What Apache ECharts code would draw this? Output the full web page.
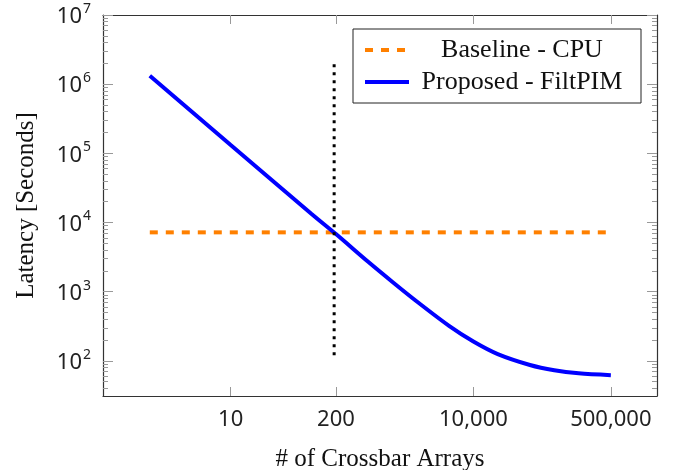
<!DOCTYPE html>
<html>
<head>
<meta charset="utf-8">
<script src="https://cdn.jsdelivr.net/npm/echarts@6/dist/echarts.min.js"></script>
<style>
  html, body { margin: 0; padding: 0; background: #fff; }
  #chart { width: 683px; height: 470px; }
</style>
</head>
<body>
<div id="chart"></div>
<script>
// 横轴（阵列数）与纵轴（延迟）数据
var crossbars = [1, 10, 100, 200, 500, 1000, 2000, 5000, 10000, 20000, 50000, 100000, 200000, 500000];
var filtpim = [1.32e6, 1.32e5, 1.33e4, 6.8e3, 2.7e3, 1.38e3, 720, 320, 190, 125, 87, 73, 66, 62];
var cpuRange = [1, 500000];
var cpuLatency = 7.2e3;
var markerX = 190;
var markerY = [120, 2e6];

var xTickValues = [10, 200, 10000, 500000];
var yTickValues = [100, 1e3, 1e4, 1e5, 1e6, 1e7];
var yMinorValues = [];
[40, 50, 60, 70, 80, 90].forEach(function (v) { yMinorValues.push(v); });
for (var e = 2; e < 7; e++) {
    for (var k = 2; k <= 9; k++) yMinorValues.push(k * Math.pow(10, e));
}

var X_MIN = 0.264, X_MAX = 1.86e6;
var Y_MIN = 31, Y_MAX = 1e7;

var sansFont = '"Noto Sans", sans-serif';
var serifFont = '"Liberation Serif", "Times New Roman", serif';
var axisColor = '#333';
var tickColor = '#999';

function commaFmt(v) {
    return String(Math.round(v)).replace(/\B(?=(\d{3})+(?!\d))/g, ',');
}
function powFmt(v) {
    var ex = Math.round(Math.log(v) / Math.LN10);
    return '{b|10}{s|' + ex + '}';
}

function xAxisDef(pos, labels) {
    return {
        type: 'log', position: pos, min: X_MIN, max: X_MAX, logBase: 10,
        name: labels ? '# of Crossbar Arrays' : '', nameLocation: 'middle', nameGap: 51,
        nameTextStyle: { fontFamily: serifFont, fontSize: 25, color: '#111' },
        axisLine: { show: true, onZero: false, lineStyle: { color: axisColor, width: 1.2 } },
        axisTick: { show: true, inside: true, length: 9, customValues: xTickValues, lineStyle: { color: tickColor } },
        axisLabel: { show: labels, customValues: xTickValues, formatter: commaFmt, margin: 13,
            fontFamily: sansFont, fontSize: 22, color: '#222' },
        minorTick: { show: false }, splitLine: { show: false }
    };
}
function yAxisDef(pos, major, labels) {
    return {
        type: 'log', position: pos, min: Y_MIN, max: Y_MAX, logBase: 10,
        name: labels ? 'Latency [Seconds]' : '', nameLocation: 'middle', nameGap: 64,
        nameTextStyle: { fontFamily: serifFont, fontSize: 25, color: '#111' },
        axisLine: { show: major, onZero: false, lineStyle: { color: axisColor, width: 1.2 } },
        axisTick: { show: true, inside: true, length: major ? 10 : 5,
            customValues: major ? yTickValues : yMinorValues, lineStyle: { color: tickColor } },
        axisLabel: { show: labels, customValues: yTickValues, formatter: powFmt, margin: 12,
            rich: {
                b: { fontFamily: sansFont, fontSize: 22, color: '#222', verticalAlign: 'bottom' },
                s: { fontFamily: sansFont, fontSize: 14, color: '#222', verticalAlign: 'top', padding: [0, 0, 12, 1] }
            } },
        minorTick: { show: false }, splitLine: { show: false }
    };
}

var chart = echarts.init(document.getElementById('chart'), null, { renderer: 'canvas' });
chart.setOption({
    animation: false,
    backgroundColor: '#fff',
    grid: { left: 103, right: 26, top: 15, bottom: 74, containLabel: false, outerBoundsMode: 'none' },
    legend: {
        left: 353, top: 29, orient: 'vertical',
        data: ['Baseline - CPU', 'Proposed - FiltPIM'],
        backgroundColor: '#fff', borderColor: '#222', borderWidth: 1,
        padding: [8, 11, 8, 10], itemGap: 6, itemWidth: 44, itemHeight: 14,
        itemStyle: { opacity: 0 },
        lineStyle: { width: 4 },
        formatter: function (name) { return '{t|' + name + '}'; },
        textStyle: {
            rich: { t: { width: 216, align: 'center', fontFamily: serifFont, fontSize: 26, color: '#111', lineHeight: 26 } }
        }
    },
    xAxis: [xAxisDef('bottom', true), xAxisDef('top', false)],
    yAxis: [yAxisDef('left', true, true), yAxisDef('left', false, false),
            yAxisDef('right', true, false), yAxisDef('right', false, false)],
    series: [
        {
            name: 'Baseline - CPU', type: 'line', symbol: 'none',
            data: cpuRange.map(function (x) { return [x, cpuLatency]; }),
            lineStyle: { color: '#ff8000', width: 4, type: [8, 8], cap: 'butt' },
            itemStyle: { color: '#ff8000' }
        },
        {
            name: 'Proposed - FiltPIM', type: 'line', symbol: 'none', smooth: 0.3,
            data: crossbars.map(function (x, i) { return [x, filtpim[i]]; }),
            lineStyle: { color: '#0000ff', width: 4 },
            itemStyle: { color: '#0000ff' }
        },
        {
            name: 'marker', type: 'line', symbol: 'none',
            data: markerY.map(function (y) { return [markerX, y]; }),
            lineStyle: { color: '#000', width: 3, type: [3, 5], cap: 'butt' }
        }
    ]
});
</script>
</body>
</html>
